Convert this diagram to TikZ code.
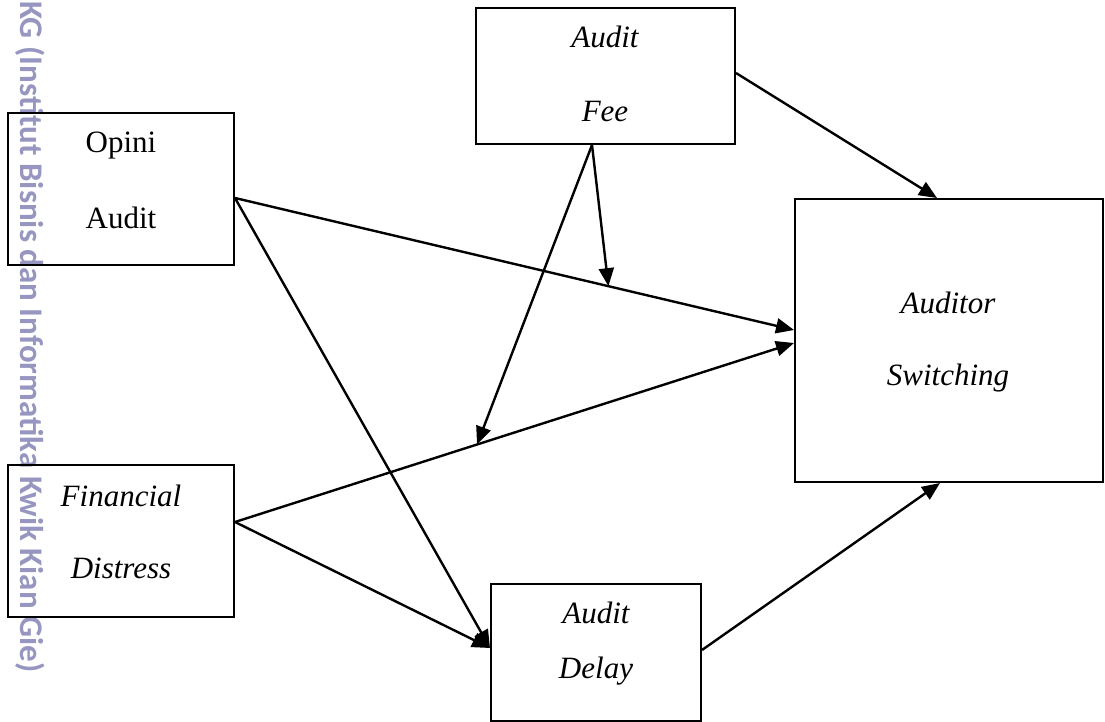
\documentclass[tikz,border=0pt]{standalone}
\usepackage{fontspec}
\setmainfont{Liberation Serif}
\newfontfamily\wmfont{Carlito}
\usetikzlibrary{arrows.meta,calc}
\definecolor{wmcol}{RGB}{150,150,192}
\tikzset{
  box/.style={draw, line width=2pt, inner sep=0pt},
  lbl/.style={anchor=base, inner sep=0pt, font=\fontsize{31}{37}\selectfont},
  ilbl/.style={anchor=base, inner sep=0pt, font=\fontsize{31}{37}\selectfont\itshape},
  conn/.style={line width=2.4pt, -{Triangle[length=18pt,width=15pt]}},
  wmark/.style={rotate=-90, anchor=base west, inner sep=0pt, text=wmcol, font=\wmfont\bfseries\fontsize{33}{40}\selectfont},
}
\begin{document}
\begin{tikzpicture}[x=1pt,y=-1pt]
\useasboundingbox (0,0) rectangle (1105,722);
% watermark
\node[wmark] (wm) at (20,1) {KG (Institut Bisnis dan Informatika Kwik Kian Gie)};
% boxes
\node[box, minimum width=226pt, minimum height=152pt] (op) at (121,189) {};
\node[box, minimum width=226pt, minimum height=152pt] (fd) at (121,541) {};
\node[box, minimum width=259pt, minimum height=136pt] (af) at (605.5,76) {};
\node[box, minimum width=210pt, minimum height=137pt] (ad) at (596,652.5) {};
\node[box, minimum width=308pt, minimum height=283pt] (as) at (949,340.5) {};
% labels
\node[lbl] (opA) at (121,153) {Opini};
\node[lbl] (opB) at (121,228) {Audit};
\node[ilbl] (fdA) at (121,506) {Financial};
\node[ilbl] (fdB) at (121,578) {Distress};
\node[ilbl] (afA) at (605,48) {Audit};
\node[ilbl] (afB) at (605,122) {Fee};
\node[ilbl] (adA) at (596,623) {Audit};
\node[ilbl] (adB) at (596,678) {Delay};
\node[ilbl] (asA) at (948,313) {Auditor};
\node[ilbl] (asB) at (948,385) {Switching};
% anchor points
\coordinate (opS) at ([yshift=-9pt]op.east);
\coordinate (fdS) at ([yshift=19pt]fd.east);
\coordinate (asW1) at ([yshift=10.5pt]as.west);
\coordinate (asW2) at ([yshift=-2.5pt]as.west);
\coordinate (adW) at ([yshift=4.5pt]ad.west);
\coordinate (m1) at ($(opS)!0.668!(asW1)$);
\coordinate (m2) at ($(fdS)!0.433!(asW2)$);
% connectors
\draw[conn] (opS) -- (asW1);
\draw[conn] (fdS) -- (asW2);
\draw[conn] (opS) -- (adW);
\draw[conn] (fdS) -- (adW);
\draw[conn] ([yshift=3pt]af.east) -- ([xshift=-12pt]as.north);
\draw[conn] ([yshift=2.5pt]ad.east) -- ([xshift=-9pt]as.south);
\draw[conn] ([xshift=-13.5pt]af.south) -- (m1);
\draw[conn] ([xshift=-13.5pt]af.south) -- (m2);
\end{tikzpicture}
\end{document}
